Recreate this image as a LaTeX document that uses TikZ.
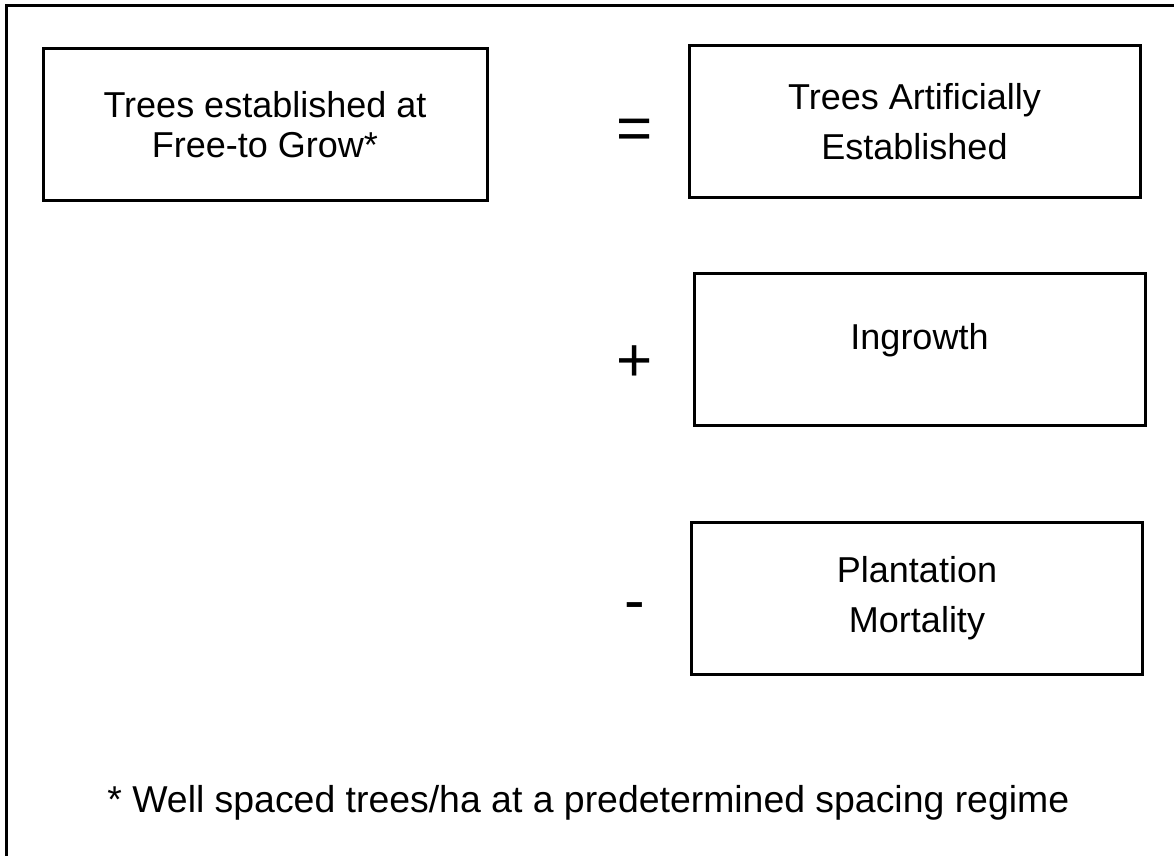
\documentclass[tikz,border=0pt]{standalone}
\usepackage{fontspec}
\setmainfont{Liberation Sans}
\usetikzlibrary{positioning}

\begin{document}
\begin{tikzpicture}[x=0.5pt, y=-0.5pt,
  termbox/.style={draw=black, line width=1.5pt, minimum width=225.5pt, minimum height=76pt,
    align=center, inner sep=0pt, font=\fontsize{18}{25}\selectfont},
  opsign/.style={anchor=base, inner sep=0pt, font=\fontsize{31}{31}\selectfont}]
  \useasboundingbox (0,0) rectangle (1174,856);
  \clip (0,0) rectangle (1174,856);
  \draw[line width=1.5pt] (6,6) rectangle (1200,900);

  \node[termbox, minimum width=222pt, font=\fontsize{18}{20}\selectfont] (freegrow) at (265,125) {Trees established at\\Free-to Grow*};
  \node[termbox] (artificial) at (914.5,122) {Trees Artificially\\Established};
  \node[termbox, text height=10pt, text depth=10pt] (ingrowth) at (919.5,349.5) {Ingrowth};
  \node[termbox] (mortality) at (917,598.5) {Plantation\\Mortality};

  \node[opsign] (equals) at (635,150) {=};
  \node[opsign] (plus) at (635,381) {+};
  \node[opsign] (minus) at (635,621) {-};

  \node[anchor=base west, inner sep=0pt, font=\fontsize{18.7}{20}\selectfont] (footnote) at (107,812) {* Well spaced trees/ha at a predetermined spacing regime};
\end{tikzpicture}
\end{document}
